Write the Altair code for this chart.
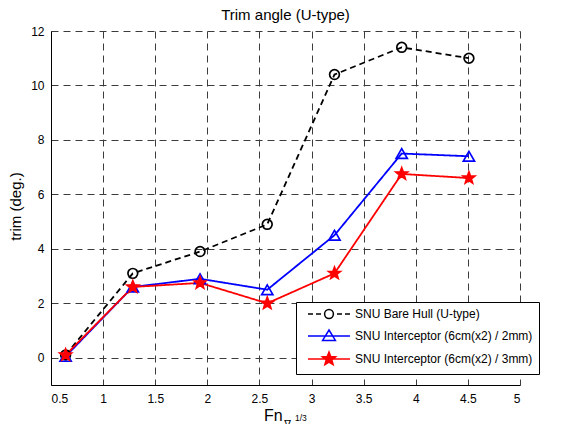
import math
import altair as alt
import pandas as pd

# ---- data ----
fn = [0.64, 1.285, 1.93, 2.575, 3.22, 3.865, 4.51]
bare_hull = [0.1, 3.1, 3.9, 4.9, 10.4, 11.4, 11.0]
interceptor_2mm = [0.05, 2.6, 2.9, 2.5, 4.5, 7.5, 7.4]
interceptor_3mm = [0.1, 2.6, 2.75, 2.0, 3.1, 6.75, 6.6]
series = [
    "SNU Bare Hull (U-type)",
    "SNU Interceptor (6cm(x2) / 2mm)",
    "SNU Interceptor (6cm(x2) / 3mm)",
]
x_ticks = [0.5, 1, 1.5, 2, 2.5, 3, 3.5, 4, 4.5, 5]
y_ticks = [0, 2, 4, 6, 8, 10, 12]
chart_title = "Trim angle (U-type)"
y_title = "trim (deg.)"

rows = []
for name, vals in zip(series, [bare_hull, interceptor_2mm, interceptor_3mm]):
    for f, v in zip(fn, vals):
        rows.append({"series": name, "fn": f, "trim": v})
df = pd.DataFrame(rows)

# ---- styles ----
FONT = "Liberation Sans"
colors = ["#000000", "#0000ff", "#ff0000"]
fills = ["transparent", "transparent", "#ff0000"]
dashes = [[6, 4], [1, 0], [1, 0]]


def star_path(R, r):
    pts = []
    for k in range(10):
        a = math.radians(-90 + 36 * k)
        rad = R if k % 2 == 0 else r
        pts.append((rad * math.cos(a), rad * math.sin(a)))
    return "M" + "L".join(f"{x:.3f},{y:.3f}" for x, y in pts) + "Z"


STAR = star_path(1.0, 0.42)
LINE = "M-5.25,0L5.25,0"
legend_paths = [
    "M-5.25,0L-4,0M-3.25,0L-2,0M2,0L3.25,0M4,0L5.25,0"
    "M1.1,0A1.1,1.1 0 1,1 -1.1,0A1.1,1.1 0 1,1 1.1,0Z",
    LINE + "M0,-1.5L1.6,1.1L-1.6,1.1Z",
    LINE + star_path(1.75, 0.75),
]

x_enc = alt.X(
    "fn:Q",
    scale=alt.Scale(domain=[0.5, 5], nice=False, zero=False),
    axis=alt.Axis(values=x_ticks, format="~g", title=None, labelPadding=8),
)
y_enc = alt.Y(
    "trim:Q",
    scale=alt.Scale(domain=[-1, 12], nice=False, zero=False),
    axis=alt.Axis(
        values=y_ticks, format="~g", title=y_title, labelPadding=7,
        titleAngle=270, titleX=-36, titleY=175, titleBaseline="middle",
        titleFontSize=15, titleFont=FONT, titleFontWeight="normal", titleColor="#000000",
    ),
)

base = alt.Chart(df)

lines = base.mark_line(strokeWidth=1.8).encode(
    x=x_enc,
    y=y_enc,
    stroke=alt.Stroke("series:N", scale=alt.Scale(domain=series, range=colors), legend=None),
    strokeDash=alt.StrokeDash("series:N", scale=alt.Scale(domain=series, range=dashes), legend=None),
)

points = base.mark_point(filled=False, opacity=1, strokeWidth=1.7).encode(
    x="fn:Q",
    y="trim:Q",
    shape=alt.Shape("series:N", scale=alt.Scale(domain=series, range=["circle", "triangle-up", STAR]), legend=None),
    stroke=alt.Stroke("series:N", scale=alt.Scale(domain=series, range=colors), legend=None),
    fill=alt.Fill("series:N", scale=alt.Scale(domain=series, range=fills), legend=None),
    size=alt.Size("series:N", scale=alt.Scale(domain=series, range=[95, 155, 210]), legend=None),
)

leg = alt.Legend(
    title=None, orient="none", legendX=245, legendY=271,
    labelFont=FONT, labelFontSize=12, labelColor="#000000", labelLimit=400,
    strokeColor="#000000", fillColor="#ffffff", padding=6, cornerRadius=0,
    rowPadding=5, symbolSize=64, symbolStrokeWidth=1.5, symbolOpacity=1,
    symbolOffset=21, labelOffset=20,
)

legend_layer = base.mark_point(filled=False, opacity=0, size=64, strokeWidth=1.5).encode(
    x="fn:Q",
    y="trim:Q",
    shape=alt.Shape("series:N", scale=alt.Scale(domain=series, range=legend_paths), legend=leg),
    stroke=alt.Stroke("series:N", scale=alt.Scale(domain=series, range=colors), legend=leg),
    fill=alt.Fill("series:N", scale=alt.Scale(domain=series, range=fills), legend=leg),
)

one = alt.Data(values=[{"k": 1}])
title_text = alt.Chart(one).mark_text(
    text=chart_title, align="center", baseline="alphabetic", fontSize=15, font=FONT, color="#000000"
).encode(x=alt.value(234.5), y=alt.value(-11))
fn_text = alt.Chart(one).mark_text(
    text="Fn", align="left", baseline="alphabetic", fontSize=16, font=FONT, color="#000000"
).encode(x=alt.value(213), y=alt.value(390))
nabla_text = alt.Chart(one).mark_text(
    text="\u2207", align="center", baseline="alphabetic", fontSize=10, font="DejaVu Sans", color="#000000"
).encode(x=alt.value(236.5), y=alt.value(396))
third_text = alt.Chart(one).mark_text(
    text="1/3", align="left", baseline="alphabetic", fontSize=8.5, font=FONT, color="#000000"
).encode(x=alt.value(244), y=alt.value(389.5))

chart = (
    alt.layer(lines, points, legend_layer, title_text, fn_text, nabla_text, third_text)
    .resolve_scale(stroke="independent", fill="independent", shape="independent",
                   strokeDash="independent", size="independent")
    .properties(
        width=469, height=354, autosize="none",
        padding={"left": 43, "top": 23, "right": 38, "bottom": 39},
    )
    .configure_view(stroke="transparent")
    .configure_axis(
        labelFont=FONT, labelFontSize=12, labelColor="#000000",
        domainColor="#000000", domainWidth=1, ticks=False, tickSize=0,
        grid=True, gridColor="#3c3c3c", gridDash=[7, 5], gridWidth=1, gridOpacity=1,
    )
)

chart.save("out.html", embed_options={"renderer": "svg", "actions": False})
